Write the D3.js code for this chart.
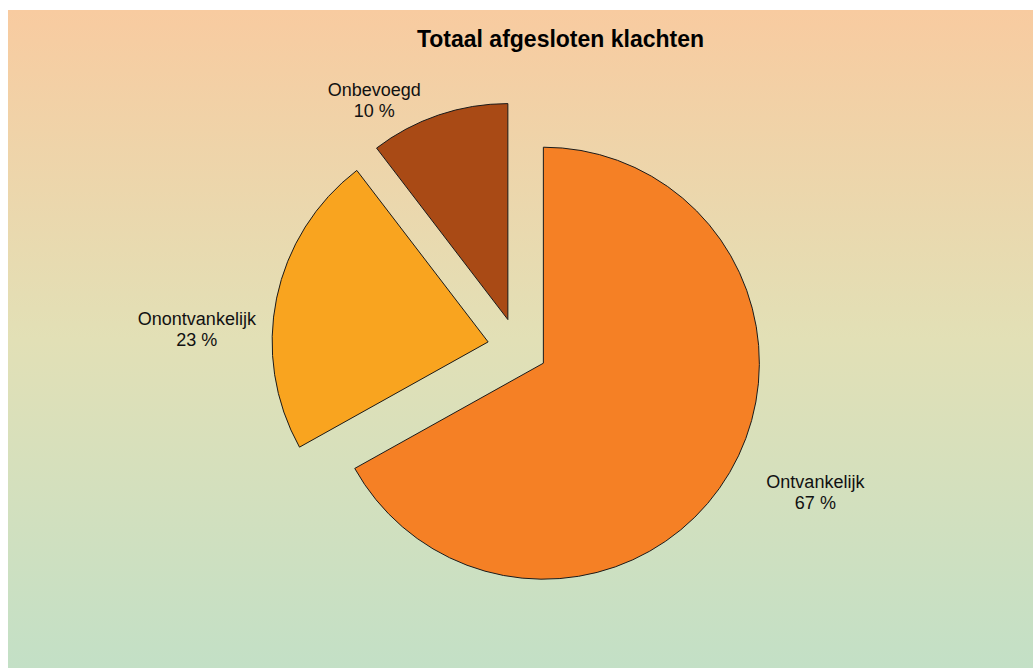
<!DOCTYPE html>
<html lang="nl">
<head>
    <meta charset="UTF-8">
    <title>Totaal afgesloten klachten</title>
    <script src="https://cdn.jsdelivr.net/npm/d3@7/dist/d3.min.js"></script>
    <style>
        html, body { margin: 0; padding: 0; background: #fff; }
        svg { display: block; }
    </style>
</head>
<body>
    <svg width="1033" height="668" id="mainsvg"></svg>
    <script>
        // data
        const categories = ['Ontvankelijk', 'Onontvankelijk', 'Onbevoegd'];
        const shares = [66.9, 22.7, 10.4];
        const sliceColors = ['#F58025', '#F9A41F', '#A94A15'];
        // label corrections (Excel places labels a bit off the mid-angle ray)
        const labelNudge = [[34, -15], [-21, 39], [-45, 38]];

        const svg = d3.select('svg');
        const width = +svg.attr('width');
        const height = +svg.attr('height');

        // background gradient
        const defs = svg.append('defs');
        const grad = defs.append('linearGradient').attr('id', 'bg')
            .attr('x1', 0).attr('y1', 0).attr('x2', 0).attr('y2', 1);
        grad.append('stop').attr('offset', '0%').attr('stop-color', '#F8CBA0');
        grad.append('stop').attr('offset', '50%').attr('stop-color', '#E2E0B6');
        grad.append('stop').attr('offset', '100%').attr('stop-color', '#C3E0C6');
        svg.append('rect').attr('x', 8).attr('y', 10)
            .attr('width', width - 8).attr('height', height - 10)
            .attr('fill', 'url(#bg)');

        // title
        svg.append('text').attr('x', 560.5).attr('y', 47)
            .attr('text-anchor', 'middle')
            .attr('font-family', 'Liberation Sans, Arial, sans-serif')
            .attr('font-weight', 'bold').attr('font-size', '23px')
            .attr('fill', '#000').text('Totaal afgesloten klachten');

        // pie
        const cx = 517.5, cy = 348;
        const radius = 216;
        const explode = 30;
        const data = categories.map((c, i) => ({ name: c, value: shares[i], color: sliceColors[i], i }));
        const pie = d3.pie().value(d => d.value).sort(null);
        const arc = d3.arc().innerRadius(0).outerRadius(radius);
        const total = d3.sum(shares);
        const fmt = d => d3.format('.0f')(d.data.value / total * 100) + ' %';

        const g = svg.append('g').attr('transform', `translate(${cx},${cy})`);
        const arcs = pie(data);

        const slices = g.selectAll('g.slice').data(arcs).join('g')
            .attr('class', 'slice')
            .attr('transform', d => {
                const [dx, dy] = d3.pointRadial((d.startAngle + d.endAngle) / 2, explode);
                return `translate(${dx},${dy})`;
            });
        slices.append('path').attr('d', arc)
            .attr('fill', d => d.data.color)
            .attr('stroke', '#1a1a1a').attr('stroke-width', 1)
            .attr('stroke-linejoin', 'miter');

        // labels
        const labels = slices.append('text')
            .attr('text-anchor', 'middle')
            .attr('font-family', 'Liberation Sans, Arial, sans-serif')
            .attr('font-size', '18px').attr('fill', '#111')
            .attr('transform', d => {
                const [px, py] = d3.pointRadial((d.startAngle + d.endAngle) / 2, radius + 60);
                const n = labelNudge[d.data.i];
                return `translate(${px + n[0]},${py + n[1]})`;
            });
        labels.append('tspan').attr('x', 0).attr('y', 0).text(d => d.data.name);
        labels.append('tspan').attr('x', 0).attr('y', 20.7).text(fmt);
    </script>
</body>
</html>
